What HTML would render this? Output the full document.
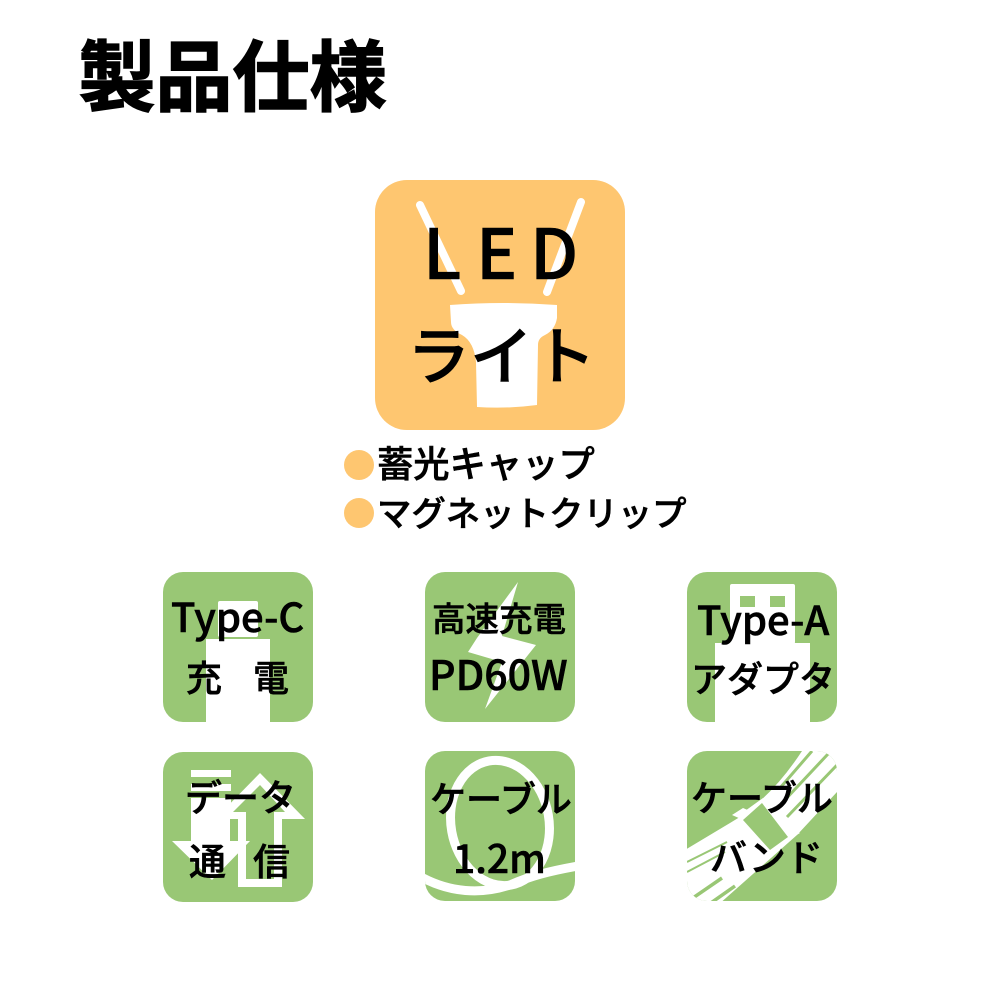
<!DOCTYPE html>
<html lang="ja"><head><meta charset="utf-8"><style>
html,body{margin:0;padding:0;background:#fff}
svg{display:block}
text{font-family:"Liberation Sans","Noto Sans CJK JP",sans-serif;fill:#000}
.j{font-family:"Noto Sans CJK JP",sans-serif;font-weight:700;stroke:#000;stroke-width:1.5}
.m{font-family:"Noto Sans CJK JP",sans-serif;font-weight:500;stroke:#000;stroke-width:.6}
</style></head><body>
<svg width="1000" height="1000" viewBox="0 0 1000 1000" xmlns="http://www.w3.org/2000/svg">
<defs>
<clipPath id="c5"><rect x="425" y="751" width="150" height="150" rx="20"/></clipPath>
<clipPath id="c6"><rect x="687" y="751" width="150" height="150" rx="20"/></clipPath>
</defs>
<rect width="1000" height="1000" fill="#fff"/>
<text class="j" x="78.5" y="105" font-size="77">製品仕様</text>

<rect x="375" y="180" width="250" height="250" rx="32" fill="#fec670"/>
<path d="M420 205L461 291M581 202L547 292" stroke="#fff" stroke-width="8" stroke-linecap="round" fill="none"/>
<path d="M450 305Q503 301 557 305L557 318Q555 330 545 335Q538 338 538 345L537 405Q507 409 477 407L476 362Q474 342 462 335Q451 330 451 322Z" fill="#fff"/>
<text class="m" x="423" y="279" font-size="69">L</text>
<text class="m" x="476" y="279" font-size="69">E</text>
<text class="m" x="530" y="279" font-size="69">D</text>
<text class="m" x="407" y="379" font-size="63">ライト</text>

<circle cx="359" cy="465" r="15" fill="#fec670"/>
<circle cx="359" cy="513" r="15" fill="#fec670"/>
<text class="m" x="377" y="477" font-size="36.3">蓄光キャップ</text>
<text class="m" x="377" y="526" font-size="34.4">マグネットクリップ</text>

<!-- Type-C -->
<rect x="163" y="572" width="150" height="150" rx="20" fill="#99c775"/>
<rect x="218" y="601" width="40" height="36" rx="2" fill="#fff"/>
<rect x="206" y="639" width="64" height="83" fill="#fff"/>
<text class="m" x="171" y="632" font-size="40">Type-C</text>
<text class="m" x="186" y="691" font-size="36">充</text>
<text class="m" x="253" y="691" font-size="36">電</text>

<!-- fast -->
<rect x="425" y="572" width="150" height="150" rx="20" fill="#99c775"/>
<path d="M518 582L477 638L468 652L502 662L485 709L536 645L502 636Z" fill="#fff"/>
<text class="m" x="432" y="631" font-size="33.5">高速充電</text>
<text class="m" x="429" y="690" font-size="41">PD60W</text>

<!-- Type-A -->
<rect x="687" y="572" width="150" height="150" rx="20" fill="#99c775"/>
<rect x="730" y="584" width="65" height="60" rx="2" fill="#fff"/>
<rect x="740" y="596" width="15" height="11" fill="#99c775"/>
<rect x="770" y="596" width="15" height="11" fill="#99c775"/>
<rect x="715" y="643" width="95" height="79" fill="#fff"/>
<text class="m" x="697" y="635" font-size="40">Type-A</text>
<text class="m" x="691" y="692" font-size="36">アダプタ</text>

<!-- data -->
<rect x="163" y="752" width="150" height="150" rx="20" fill="#99c775"/>
<path d="M260 773L305 819H282V887H238V819H215Z" fill="#fff"/>
<path d="M260 785L285 812H274V879H246V812H233Z" fill="#99c775"/>
<path d="M191 770H231V841H250L212 880L172 841H191Z" fill="#fff"/>
<rect x="191" y="777" width="40" height="7" fill="#99c775"/>
<rect x="191" y="791" width="40" height="7" fill="#99c775"/>
<rect x="230" y="819" width="8" height="22" fill="#99c775"/>
<text class="m" x="185" y="811" font-size="37">データ</text>
<text class="m" x="189" y="875" font-size="37">通</text>
<text class="m" x="253" y="875" font-size="37">信</text>

<!-- cable -->
<rect x="425" y="751" width="150" height="150" rx="20" fill="#99c775"/>
<g clip-path="url(#c5)" fill="none" stroke="#fff" stroke-width="9">
<ellipse cx="500" cy="823" rx="49" ry="63" transform="rotate(-10 500 823)"/>
<path d="M423 878C450 892 480 895 510 885C530 876 550 871 578 866"/>
</g>
<text class="m" x="430" y="812" font-size="36">ケーブル</text>
<text class="m" x="453" y="873" font-size="39">1.2m</text>

<!-- band -->
<rect x="687" y="751" width="150" height="150" rx="20" fill="#99c775"/>
<g clip-path="url(#c6)">
<path d="M680 853L730 823Q770 800 802 751H850V778L797 835L718 905H680Z" fill="#fff"/>
<g stroke="#99c775" fill="none">
<path d="M687 862L727 842M687 872L725 852" stroke-width="2"/>
<path d="M690 900L722 878M708 905L735 886" stroke-width="3.5"/>
<path d="M812 751L780 788M828 754L783 802M837 765L787 817" stroke-width="3"/>
</g>
<path d="M732 815L743 808L800 833L788 840Z" fill="#fff"/>
<path d="M738 816L763 798L794 836L770 855Z" fill="#fff"/>
<path d="M743 820L762 803L788 837L770 850Z" fill="#99c775"/>
</g>
<text class="m" x="691" y="811" font-size="36">ケーブル</text>
<text class="m" x="710" y="871" font-size="37">バンド</text>
</svg>
</body></html>
